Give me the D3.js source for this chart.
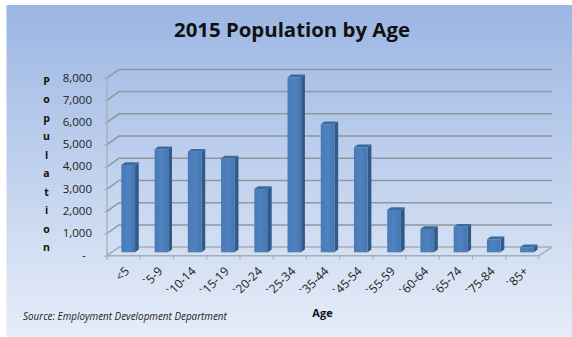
<!DOCTYPE html>
<html><head><meta charset="utf-8">
<script src="https://cdn.jsdelivr.net/npm/d3@7/dist/d3.min.js"></script>
<style>html,body{margin:0;padding:0;background:#fff}svg{display:block}text{font-family:"Open Sans",sans-serif}</style>
</head><body><svg id="c" width="572" height="337"></svg>
<script>
const categories=["<5","5-9","10-14","15-19","20-24","25-34","35-44","45-54","55-59","60-64","65-74","75-84","85+"];
const population=[3930,4640,4530,4230,2850,7880,5765,4730,1905,1050,1150,585,225];
const yTicks=[0,1000,2000,3000,4000,5000,6000,7000,8000];
const yLabel="Population".split("");
const svg=d3.select("#c");
const defs=svg.append("defs");
const g=defs.append("linearGradient").attr("id","bg").attr("x1",0).attr("x2",0).attr("y1",0).attr("y2",1);
g.append("stop").attr("offset",0).attr("stop-color","#9bb6e3");
g.append("stop").attr("offset",1).attr("stop-color","#e6edf8");
svg.append("rect").attr("x",6.5).attr("y",5).attr("width",566).attr("height",332).attr("fill","url(#bg)");
const x=d3.scaleBand().domain(categories).range([107,539]);
const y=d3.scaleLinear().domain([0,8000]).range([255.7,78]);
const dx=12,dy=-8.6,grid="#90969e",axisC="#a7adb5";
yTicks.forEach(t=>{
  svg.append("path").attr("fill","none").attr("stroke",t?grid:axisC).attr("stroke-width",1.5)
   .attr("d",d3.line()([[x.range()[0],y(t)],[x.range()[0]+dx,y(t)+dy],[x.range()[1]+dx+1,y(t)+dy]]));
  svg.append("line").attr("x1",x.range()[0]-3.5).attr("x2",x.range()[0]).attr("y1",y(t)+1).attr("y2",y(t)).attr("stroke",axisC);
  svg.append("text").attr("x",t?92:84).attr("y",y(t)+3.6).attr("text-anchor",t?"end":"middle").attr("font-size",11.5).attr("fill","#222")
   .text(t?d3.format(",")(t):"-");
});
svg.append("line").attr("x1",x.range()[0]).attr("x2",x.range()[1]).attr("y1",y(0)).attr("y2",y(0)).attr("stroke",axisC).attr("stroke-width",1.4);
svg.append("line").attr("x1",x.range()[1]).attr("x2",x.range()[1]+dx+1).attr("y1",y(0)).attr("y2",y(0)+dy).attr("stroke",axisC).attr("stroke-width",1.3);
svg.append("line").attr("x1",x.range()[0]).attr("x2",x.range()[0]).attr("y1",y(8000)).attr("y2",y(0)+3).attr("stroke",axisC).attr("stroke-width",1.3);
d3.range(categories.length+1).forEach(i=>{
  const px=x.range()[0]+i*x.step();
  svg.append("line").attr("x1",px).attr("x2",px).attr("y1",y(0)).attr("y2",y(0)+4).attr("stroke",axisC);
});
const bw=13.7,ddx=3.7,ddy=2.7,base=252.3;
const h=v=>y(0)-y(v);
const bars=svg.selectAll("g.b").data(population).join("g");
const bx=(d,i)=>x(categories[i])+x.step()/2-bw/2+4.6;
bars.append("path").attr("fill","#2f5a8a").attr("d",(d,i)=>{const l=bx(d,i)+bw,t=base-h(d);
  return `M${l},${base}L${l},${t}L${l+ddx},${t-ddy}L${l+ddx},${base-ddy}Z`});
bars.append("path").attr("fill","#3b6a9f").attr("d",(d,i)=>{const l=bx(d,i),t=base-h(d);
  return `M${l},${t}L${l+ddx},${t-ddy}L${l+bw+ddx},${t-ddy}L${l+bw},${t}Z`});
const bf=defs.append("linearGradient").attr("id","bar");
bf.append("stop").attr("offset",0).attr("stop-color","#4a7ab8");
bf.append("stop").attr("offset",.5).attr("stop-color","#4f82c0");
bf.append("stop").attr("offset",1).attr("stop-color","#4776ae");
bars.append("rect").attr("x",bx).attr("y",d=>base-h(d)).attr("width",bw).attr("height",d=>h(d)).attr("fill","url(#bar)");
categories.forEach((c,i)=>{
  const px=x(c)+x.step()/2+3.5, py=269;
  svg.append("text").attr("transform",`translate(${px},${py}) rotate(-45)`).attr("text-anchor","end").attr("font-size",12).attr("fill","#222").attr("dy","0.35em")
   .text(i?"`"+c:c);
});
svg.append("text").attr("x",292).attr("y",36.5).attr("text-anchor","middle").attr("font-size",20.4).attr("font-weight",700).attr("fill","#111").text("2015 Population by Age");
yLabel.forEach((ch,i)=>{
  svg.append("text").attr("x",46.5).attr("y",84.5+i*18.5).attr("text-anchor","middle").attr("font-size",10.5).attr("font-weight",700).attr("fill","#111").text(ch);
});
svg.append("text").attr("x",322.5).attr("y",317).attr("text-anchor","middle").attr("font-size",11).attr("font-weight",700).attr("fill","#111").text("Age");
svg.append("text").attr("x",23).attr("y",320).attr("font-size",9.9).attr("font-style","italic").attr("fill","#222").text("Source: Employment Development Department");
</script></body></html>
